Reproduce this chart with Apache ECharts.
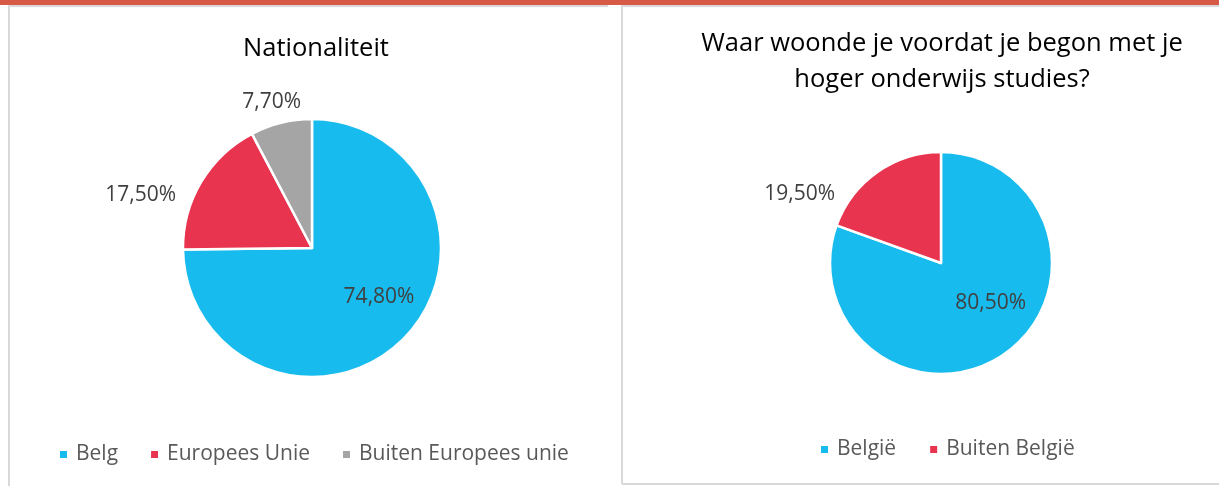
<!DOCTYPE html>
<html>
<head>
<meta charset="utf-8">
<script src="https://cdn.jsdelivr.net/npm/echarts@6/dist/echarts.min.js"></script>
<style>
  html, body { margin: 0; padding: 0; background: #fff; }
  #chart { width: 1219px; height: 486px; }
</style>
</head>
<body>
<div id="chart"></div>
<script>
// data
const natCategories = ['Belg', 'Europees Unie', 'Buiten Europees unie']
const natValues = [74.8, 17.5, 7.7]
const woonCategories = ['België', 'Buiten België']
const woonValues = [80.5, 19.5]

const natColors = ['#17BBED', '#E8344E', '#A5A5A5']
const woonColors = ['#17BBED', '#E8344E']

// label nudges (Excel "best fit" positions), per slice
const natLabelShift = [[19, 2], [-20, 13], [25, -21]]
const woonLabelShift = [[16, -8], [-37, 22]]

const FONT = 'Open Sans'

const chart = echarts.init(document.getElementById('chart'), null, { renderer: 'canvas' })

function fmt(v) {
  return v.toFixed(2).replace('.', ',') + '%'
}

function pieSeries(name, cats, vals, colors, center, radius, shift) {
  return {
    name: name,
    type: 'pie',
    center: center,
    radius: radius,
    startAngle: 90,
    clockwise: true,
    avoidLabelOverlap: false,
    color: colors,
    itemStyle: { borderColor: '#fff', borderWidth: 2.5 },
    emphasis: { disabled: true },
    labelLine: { show: false, length: 0, length2: 0 },
    label: {
      show: true,
      fontFamily: FONT,
      fontSize: 21,
      color: '#404040',
      formatter: p => fmt(p.value)
    },
    labelLayout: p => ({ dx: shift[p.dataIndex][0], dy: shift[p.dataIndex][1] }),
    data: cats.map((c, i) => ({
      name: c,
      value: vals[i],
      label: { position: i === 0 ? 'inside' : 'outside' }
    }))
  }
}

function legendOf(cats, left, top, gap) {
  return {
    data: cats,
    left: left, top: top,
    icon: 'rect', itemWidth: 9, itemHeight: 9, itemGap: gap,
    selectedMode: false,
    textStyle: { fontFamily: FONT, fontSize: 21, color: '#595959', padding: [0, 0, 0, 3] }
  }
}

const lineStyle = { stroke: '#D9D9D9', lineWidth: 2 }
const titleStyle = { fontFamily: FONT, fontSize: 25.5, fontWeight: 'normal', color: '#000', lineHeight: 36 }

chart.setOption({
  animation: false,
  title: [
    { text: 'Nationaliteit', left: 311, top: 26, textAlign: 'center', textStyle: titleStyle },
    {
      text: 'Waar woonde je voordat je begon met je\nhoger onderwijs studies?',
      left: 937, top: 21, textAlign: 'center', textStyle: titleStyle
    }
  ],
  legend: [
    legendOf(natCategories, 53, 439, 31),
    legendOf(woonCategories, 814, 434, 32)
  ],
  graphic: [
    { type: 'rect', shape: { x: 0, y: 0, width: 1219, height: 5 }, style: { fill: '#D65A45' }, silent: true },
    { type: 'line', shape: { x1: 9, y1: 5, x2: 9, y2: 486 }, style: lineStyle, silent: true },
    { type: 'line', shape: { x1: 9, y1: 6, x2: 608, y2: 6 }, style: lineStyle, silent: true },
    { type: 'line', shape: { x1: 622, y1: 5, x2: 622, y2: 484 }, style: lineStyle, silent: true },
    { type: 'line', shape: { x1: 622, y1: 6, x2: 1219, y2: 6 }, style: lineStyle, silent: true },
    { type: 'line', shape: { x1: 622, y1: 484, x2: 1219, y2: 484 }, style: lineStyle, silent: true }
  ],
  series: [
    pieSeries('Nationaliteit', natCategories, natValues, natColors, [312, 248], 129, natLabelShift),
    pieSeries('Woonplaats', woonCategories, woonValues, woonColors, [941, 263], 111, woonLabelShift)
  ]
})
</script>
</body>
</html>
